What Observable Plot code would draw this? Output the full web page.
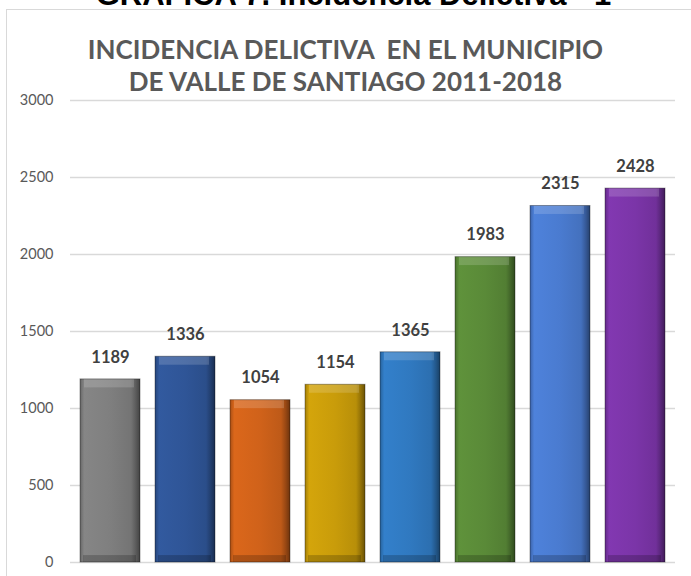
<!DOCTYPE html>
<html>
<head>
<meta charset="utf-8">
<script src="https://cdn.jsdelivr.net/npm/d3@7"></script>
<script src="https://cdn.jsdelivr.net/npm/@observablehq/plot@0.6"></script>
<style>
  html, body { margin: 0; padding: 0; background: #fff; }
  #wrap { position: relative; width: 691px; height: 576px; overflow: hidden; }
  #top { position: absolute; left: 0; width: 691px; top: -21px; text-align: center; padding-left: 16px; box-sizing: border-box;
         font: 700 31px "Liberation Sans", Arial, sans-serif; color: #000; line-height: 31px; white-space: nowrap; }
  #box { position: absolute; left: 6px; top: 9px; width: 700px; height: 600px; border-left: 1px solid #d9d9d9; border-top: 1px solid #d9d9d9; box-sizing: border-box; background: #fff; }
  .t { position: absolute; left: 0; width: 691px; text-align: center; font: 700 26px Lato, sans-serif; color: #595959; line-height: 30px; white-space: nowrap; }
  #chart { position: absolute; left: 0; top: 0; }
</style>
</head>
<body>
<div id="wrap">
  <div id="top">GRÁFICA 7. Incidencia Delictiva - 1</div>
  <div id="box"></div>
  <div class="t" id="t1" style="top:34px">INCIDENCIA DELICTIVA&nbsp; EN EL MUNICIPIO</div>
  <div class="t" id="t2" style="top:66px">DE VALLE DE SANTIAGO 2011-2018</div>
  <div id="chart"></div>
</div>
<script>
const years = ["2011", "2012", "2013", "2014", "2015", "2016", "2017", "2018"];
const values = [1189, 1336, 1054, 1154, 1365, 1983, 2315, 2428];
const colors = ["#7f7f7f", "#2f5597", "#d0621a", "#c99c0a", "#3079c0", "#5a8a38", "#4a7bd0", "#7b35a8"];
const yTicks = [0, 500, 1000, 1500, 2000, 2500, 3000];

const data = years.map((y, i) => ({year: y, value: values[i]}));

const plot = Plot.plot({
  width: 691,
  height: 576,
  marginTop: 100,
  marginBottom: 14,
  marginLeft: 70,
  marginRight: 16,
  style: {background: "transparent", fontFamily: "Lato, sans-serif"},
  x: {domain: years, axis: null, paddingInner: 0.2, paddingOuter: 0.1},
  y: {domain: [0, 3000], ticks: yTicks, grid: false, label: null},
  color: {domain: years, range: years.map((_, i) => `url(#g${i})`)},
  marks: [
    Plot.gridY(yTicks, {stroke: "#d9d9d9", strokeOpacity: 1, strokeWidth: 1.3}),
    Plot.axisY(yTicks, {tickSize: 0, tickPadding: 17, fontSize: 14.5, fill: "#595959", label: null, tickFormat: d => String(d)}),
    Plot.barY(data, {x: "year", y: "value", fill: "year"}),
    // top bevel highlight
    Plot.barY(data, {x: "year", y1: d => d.value - 55, y2: "value", fill: "#fff", fillOpacity: 0.16, insetLeft: 4, insetRight: 6}),
    // bottom bevel shadow
    Plot.barY(data, {x: "year", y1: 0, y2: 45, fill: "#000", fillOpacity: 0.2, insetLeft: 3, insetRight: 4}),
    Plot.barY(data, {x: "year", y: "value", fill: "none", stroke: "#000", strokeOpacity: 0.35, strokeWidth: 1}),
    Plot.text(data, {x: "year", y: "value", text: d => String(d.value), dy: -22, fontSize: 16.5, fontWeight: 700, fill: "#404040"})
  ]
});

const svg = d3.select(plot);
const defs = svg.insert("defs", ":first-child");
colors.forEach((c, i) => {
  const base = d3.color(c);
  const g = defs.append("linearGradient").attr("id", `g${i}`).attr("x1", 0).attr("x2", 1).attr("y1", 0).attr("y2", 0);
  const stops = [
    [0, base.darker(0.6)],
    [0.07, base.brighter(0.15)],
    [0.5, base],
    [0.85, base.darker(0.25)],
    [0.93, base.darker(0.9)],
    [1, base.darker(1.8)]
  ];
  stops.forEach(([o, col]) => g.append("stop").attr("offset", o).attr("stop-color", col.formatHex()));
});

document.getElementById("chart").appendChild(plot);
</script>
</body>
</html>
